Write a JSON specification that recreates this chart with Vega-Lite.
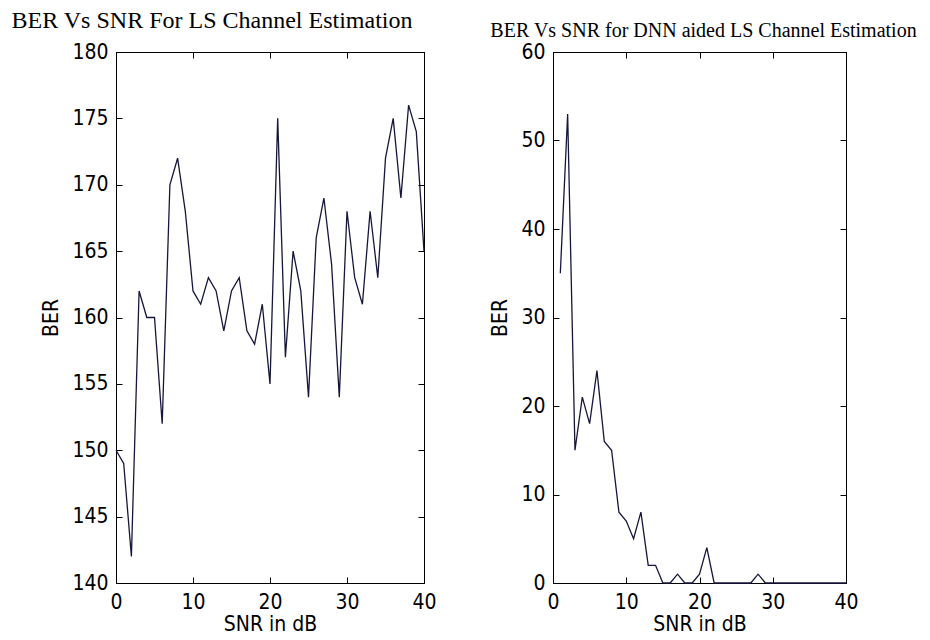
{
  "$schema": "https://vega.github.io/schema/vega-lite/v6.json",
  "background": "white",
  "padding": {"left": 10, "top": 8, "right": 0, "bottom": 0},
  "spacing": 52,
  "config": {
    "view": {"stroke": "black", "strokeWidth": 1},
    "axis": {
      "grid": false,
      "domainColor": "black",
      "tickColor": "black",
      "labelColor": "black",
      "titleColor": "black",
      "labelFont": "DejaVu Sans Condensed, Liberation Sans",
      "titleFont": "DejaVu Sans Condensed, Liberation Sans",
      "labelFontSize": 21,
      "titleFontSize": 21,
      "titleFontWeight": "normal",
      "tickSize": -6,
      "labelPadding": 14,
      "labelOverlap": false,
      "labelFlush": false
    },
    "axisX": {"titlePadding": 1},
    "axisY": {"titlePadding": 10},
    "title": {"font": "Liberation Serif", "fontWeight": "normal", "color": "black"}
  },
  "hconcat": [
    {
      "width": 308,
      "height": 531,
      "title": {"text": "BER Vs SNR For LS Channel Estimation", "fontSize": 24, "anchor": "middle", "dx": -58, "offset": 8},
      "data": {"values": [
        {"snr": 0, "ber": 150}, {"snr": 1, "ber": 149}, {"snr": 2, "ber": 142}, {"snr": 3, "ber": 162},
        {"snr": 4, "ber": 160}, {"snr": 5, "ber": 160}, {"snr": 6, "ber": 152}, {"snr": 7, "ber": 170},
        {"snr": 8, "ber": 172}, {"snr": 9, "ber": 168}, {"snr": 10, "ber": 162}, {"snr": 11, "ber": 161},
        {"snr": 12, "ber": 163}, {"snr": 13, "ber": 162}, {"snr": 14, "ber": 159}, {"snr": 15, "ber": 162},
        {"snr": 16, "ber": 163}, {"snr": 17, "ber": 159}, {"snr": 18, "ber": 158}, {"snr": 19, "ber": 161},
        {"snr": 20, "ber": 155}, {"snr": 21, "ber": 175}, {"snr": 22, "ber": 157}, {"snr": 23, "ber": 165},
        {"snr": 24, "ber": 162}, {"snr": 25, "ber": 154}, {"snr": 26, "ber": 166}, {"snr": 27, "ber": 169},
        {"snr": 28, "ber": 164}, {"snr": 29, "ber": 154}, {"snr": 30, "ber": 168}, {"snr": 31, "ber": 163},
        {"snr": 32, "ber": 161}, {"snr": 33, "ber": 168}, {"snr": 34, "ber": 163}, {"snr": 35, "ber": 172},
        {"snr": 36, "ber": 175}, {"snr": 37, "ber": 169}, {"snr": 38, "ber": 176}, {"snr": 39, "ber": 174},
        {"snr": 40, "ber": 165}
      ]},
      "layer": [
        {
          "mark": {"type": "line", "color": "#16163c", "strokeWidth": 1.3},
          "encoding": {
            "x": {"field": "snr", "type": "quantitative", "scale": {"domain": [0, 40], "nice": false}, "axis": {"title": "SNR in dB", "values": [0, 10, 20, 30, 40]}},
            "y": {"field": "ber", "type": "quantitative", "scale": {"domain": [140, 180], "zero": false, "nice": false}, "axis": {"title": "BER", "values": [140, 145, 150, 155, 160, 165, 170, 175, 180]}}
          }
        },
        {
          "mark": {"type": "line", "opacity": 0},
          "encoding": {
            "x": {"field": "snr", "type": "quantitative", "scale": {"domain": [0, 40], "nice": false}, "axis": {"orient": "top", "title": null, "labels": false, "values": [0, 10, 20, 30, 40]}},
            "y": {"field": "ber", "type": "quantitative", "scale": {"domain": [140, 180], "zero": false, "nice": false}, "axis": {"orient": "right", "title": null, "labels": false, "values": [140, 145, 150, 155, 160, 165, 170, 175, 180]}}
          }
        }
      ],
      "resolve": {"axis": {"x": "independent", "y": "independent"}}
    },
    {
      "width": 293,
      "height": 531,
      "title": {"text": "BER Vs SNR for DNN aided LS Channel Estimation", "fontSize": 20, "anchor": "middle", "dx": 4, "offset": 0},
      "data": {"values": [
        {"snr": 1, "ber": 35}, {"snr": 2, "ber": 53}, {"snr": 3, "ber": 15}, {"snr": 4, "ber": 21},
        {"snr": 5, "ber": 18}, {"snr": 6, "ber": 24}, {"snr": 7, "ber": 16}, {"snr": 8, "ber": 15},
        {"snr": 9, "ber": 8}, {"snr": 10, "ber": 7}, {"snr": 11, "ber": 5}, {"snr": 12, "ber": 8},
        {"snr": 13, "ber": 2}, {"snr": 14, "ber": 2}, {"snr": 15, "ber": 0}, {"snr": 16, "ber": 0},
        {"snr": 17, "ber": 1}, {"snr": 18, "ber": 0}, {"snr": 19, "ber": 0}, {"snr": 20, "ber": 1},
        {"snr": 21, "ber": 4}, {"snr": 22, "ber": 0}, {"snr": 23, "ber": 0}, {"snr": 24, "ber": 0},
        {"snr": 25, "ber": 0}, {"snr": 26, "ber": 0}, {"snr": 27, "ber": 0}, {"snr": 28, "ber": 1},
        {"snr": 29, "ber": 0}, {"snr": 30, "ber": 0}, {"snr": 31, "ber": 0}, {"snr": 32, "ber": 0},
        {"snr": 33, "ber": 0}, {"snr": 34, "ber": 0}, {"snr": 35, "ber": 0}, {"snr": 36, "ber": 0},
        {"snr": 37, "ber": 0}, {"snr": 38, "ber": 0}, {"snr": 39, "ber": 0}, {"snr": 40, "ber": 0}
      ]},
      "layer": [
        {
          "mark": {"type": "line", "color": "#16163c", "strokeWidth": 1.3},
          "encoding": {
            "x": {"field": "snr", "type": "quantitative", "scale": {"domain": [0, 40], "nice": false}, "axis": {"title": "SNR in dB", "values": [0, 10, 20, 30, 40]}},
            "y": {"field": "ber", "type": "quantitative", "scale": {"domain": [0, 60], "nice": false}, "axis": {"title": "BER", "values": [0, 10, 20, 30, 40, 50, 60]}}
          }
        },
        {
          "mark": {"type": "line", "opacity": 0},
          "encoding": {
            "x": {"field": "snr", "type": "quantitative", "scale": {"domain": [0, 40], "nice": false}, "axis": {"orient": "top", "title": null, "labels": false, "values": [0, 10, 20, 30, 40]}},
            "y": {"field": "ber", "type": "quantitative", "scale": {"domain": [0, 60], "nice": false}, "axis": {"orient": "right", "title": null, "labels": false, "values": [0, 10, 20, 30, 40, 50, 60]}}
          }
        }
      ],
      "resolve": {"axis": {"x": "independent", "y": "independent"}}
    }
  ]
}
